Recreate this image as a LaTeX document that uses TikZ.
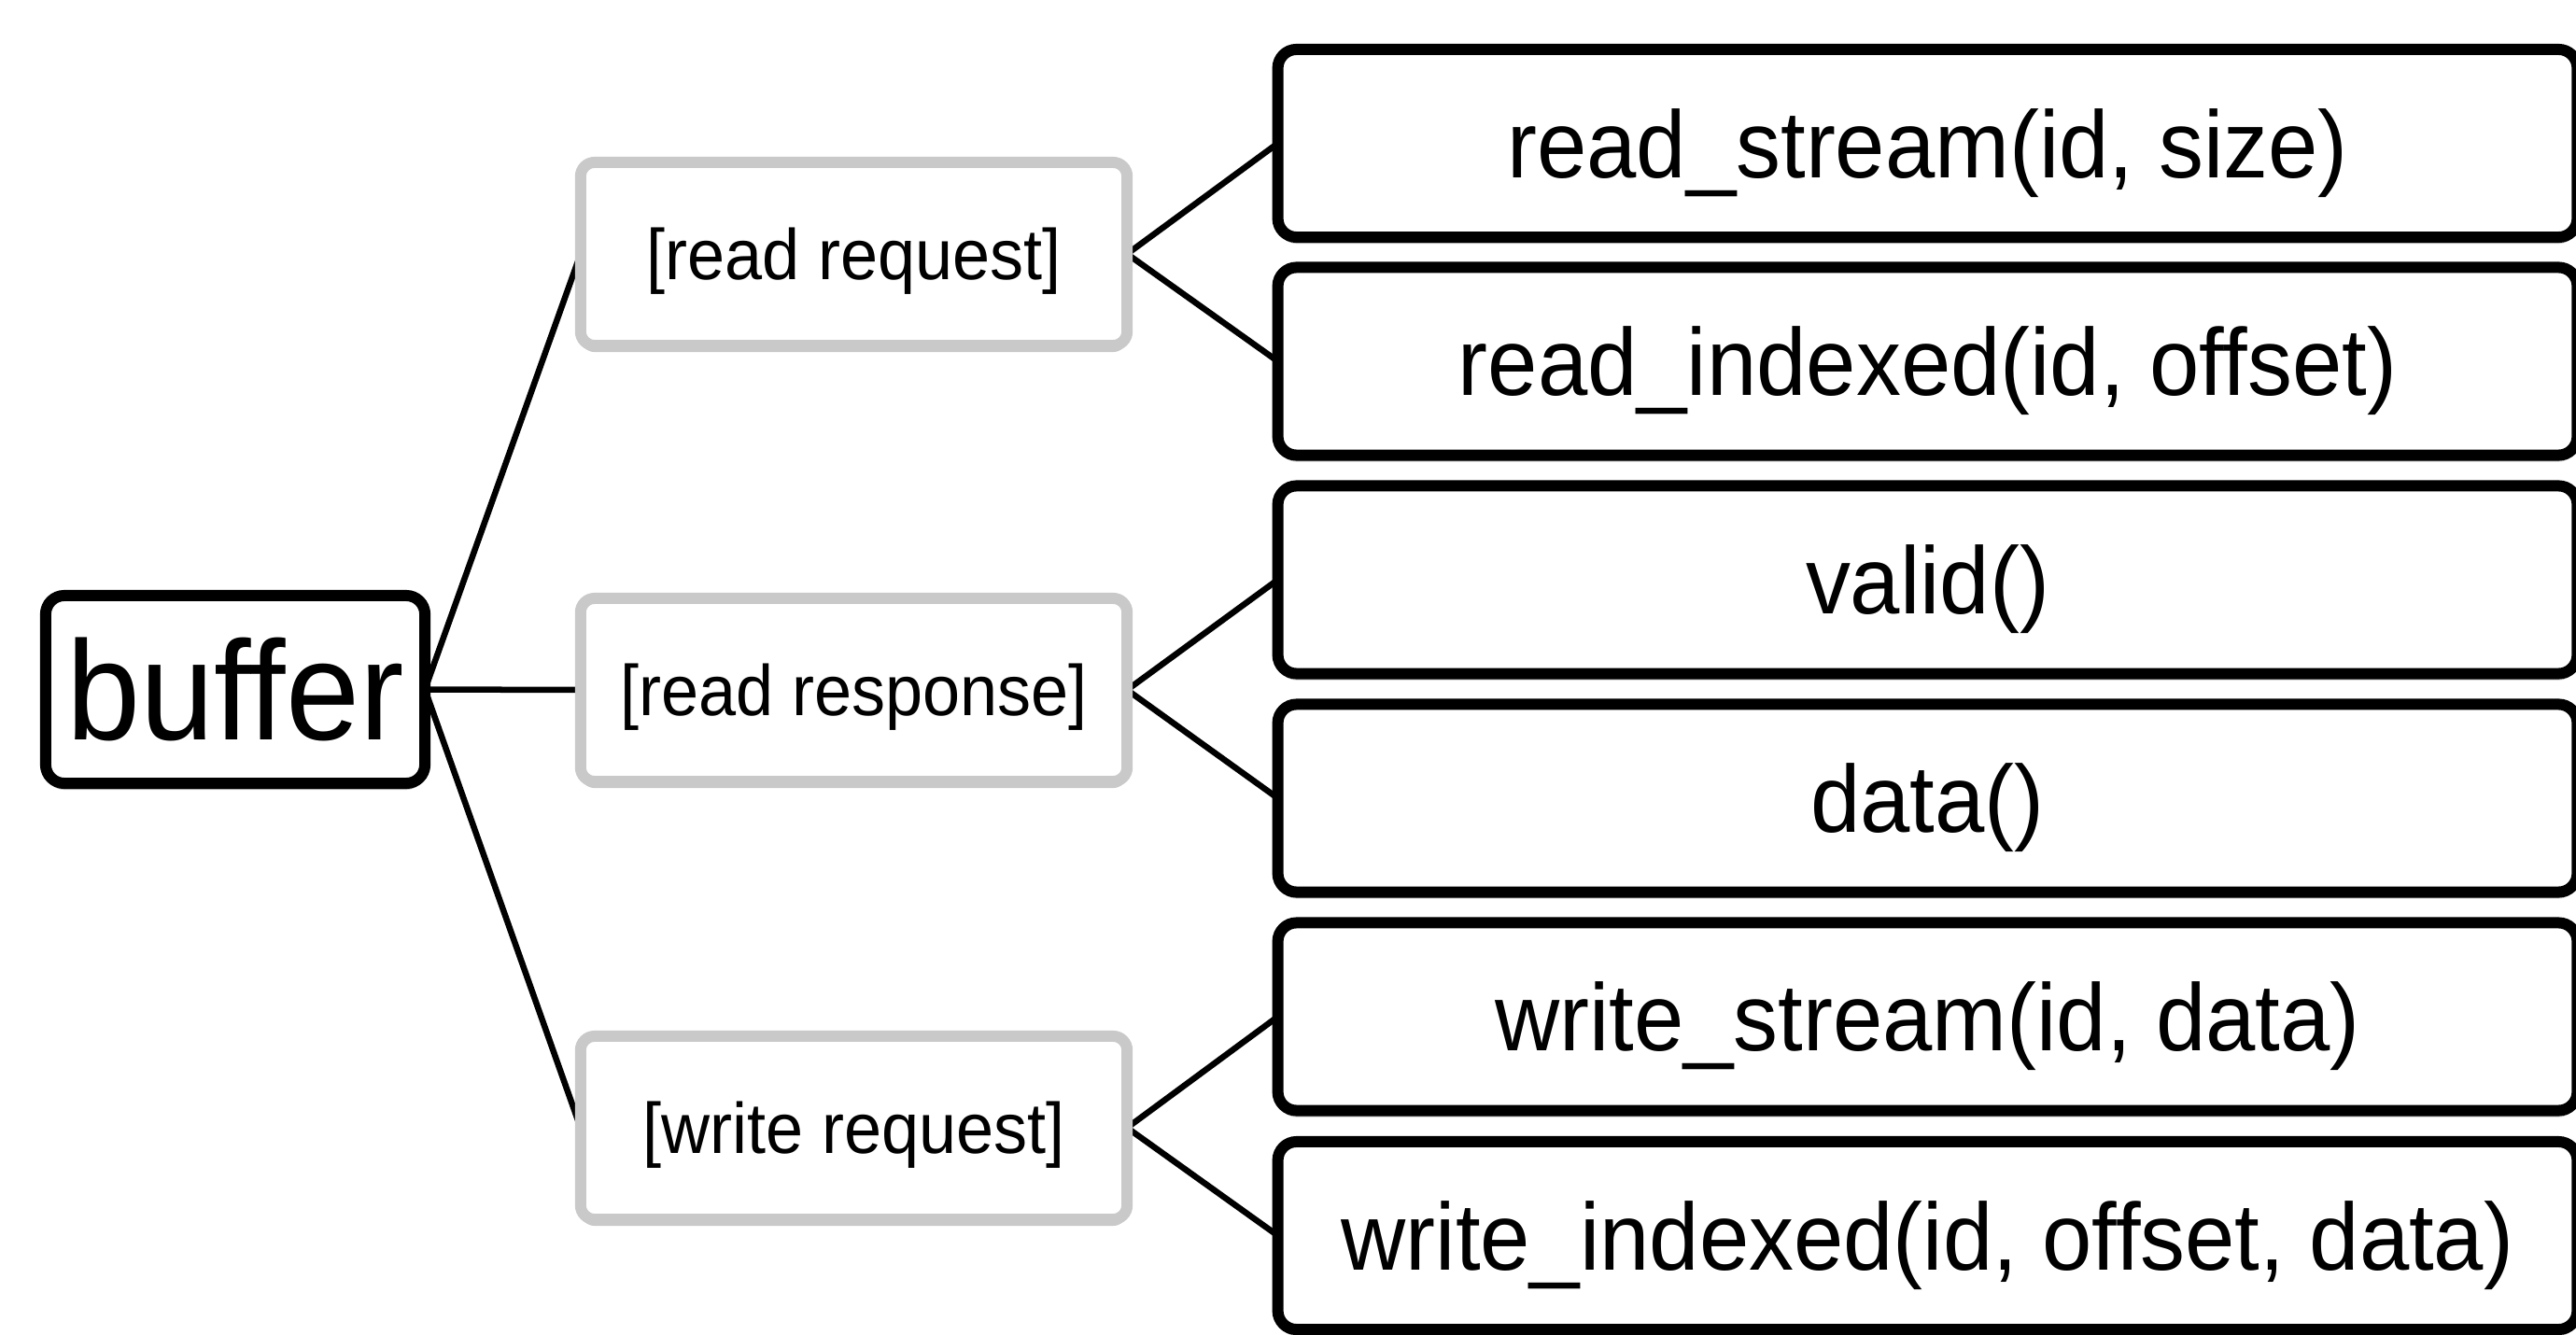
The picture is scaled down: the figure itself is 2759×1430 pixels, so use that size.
\documentclass[tikz,border=0pt]{standalone}
\usepackage{fontspec}
\setmainfont{Liberation Sans}[FakeStretch=0.94]
\usetikzlibrary{backgrounds,shadows}
\tikzset{
  boxshadow/.style={drop shadow={shadow xshift=0pt,shadow yshift=-0.07cm,opacity=0.22,fill=black}},
  rootbox/.style={draw=black,line width=0.12cm,rounded corners=0.2cm,fill=white,outer sep=0pt,inner sep=0pt,
    minimum width=4.06cm,minimum height=2.01cm,font=\fontsize{43pt}{43pt}\selectfont,text height=30.9pt,text depth=0pt,boxshadow},
  kindbox/.style={draw=black!21,line width=0.12cm,rounded corners=0.15cm,fill=white,outer sep=0pt,inner sep=0pt,
    minimum width=5.85cm,minimum height=1.96cm,font=\fontsize{21.8pt}{21.8pt}\selectfont,text height=15.7pt,text depth=0pt,boxshadow},
  callbox/.style={draw=black,line width=0.12cm,rounded corners=0.2cm,fill=white,outer sep=0pt,inner sep=0pt,
    minimum width=13.91cm,minimum height=2.01cm,font=\fontsize{29pt}{29pt}\selectfont,text height=20.9pt,text depth=0pt,boxshadow},
  conn/.style={draw=black,line width=0.065cm}
}
\begin{document}
\begin{tikzpicture}[x=0.01cm,y=-0.01cm]
\useasboundingbox (0,0) rectangle (2759,1430);
\node[rootbox] (buf) at (252,738.5) {buffer};
\node[kindbox] (rq) at (914.5,272) {[read request]};
\node[kindbox] (rs) at (914.5,739) {[read response]};
\node[kindbox] (wq) at (914.5,1208) {[write request]};
\node[callbox] (rs1) at (2064.5,153.5) {read\_stream(id, size)};
\node[callbox] (ri1) at (2064.5,387) {read\_indexed(id, offset)};
\node[callbox] (va) at (2064.5,621) {valid()};
\node[callbox] (da) at (2064.5,855) {data()};
\node[callbox] (ws1) at (2064.5,1089) {write\_stream(id, data)};
\node[callbox] (wi1) at (2064.5,1323.5) {write\_indexed(id, offset, data)};
\begin{scope}[on background layer]
\draw[conn] (buf.east) -- (rq.west);
\draw[conn] (buf.east) -- (rs.west);
\draw[conn] (buf.east) -- (wq.west);
\draw[conn] (rs1.west) -- (rq.east) -- (ri1.west);
\draw[conn] (va.west) -- (rs.east) -- (da.west);
\draw[conn] (ws1.west) -- (wq.east) -- (wi1.west);
\end{scope}
\end{tikzpicture}
\end{document}
